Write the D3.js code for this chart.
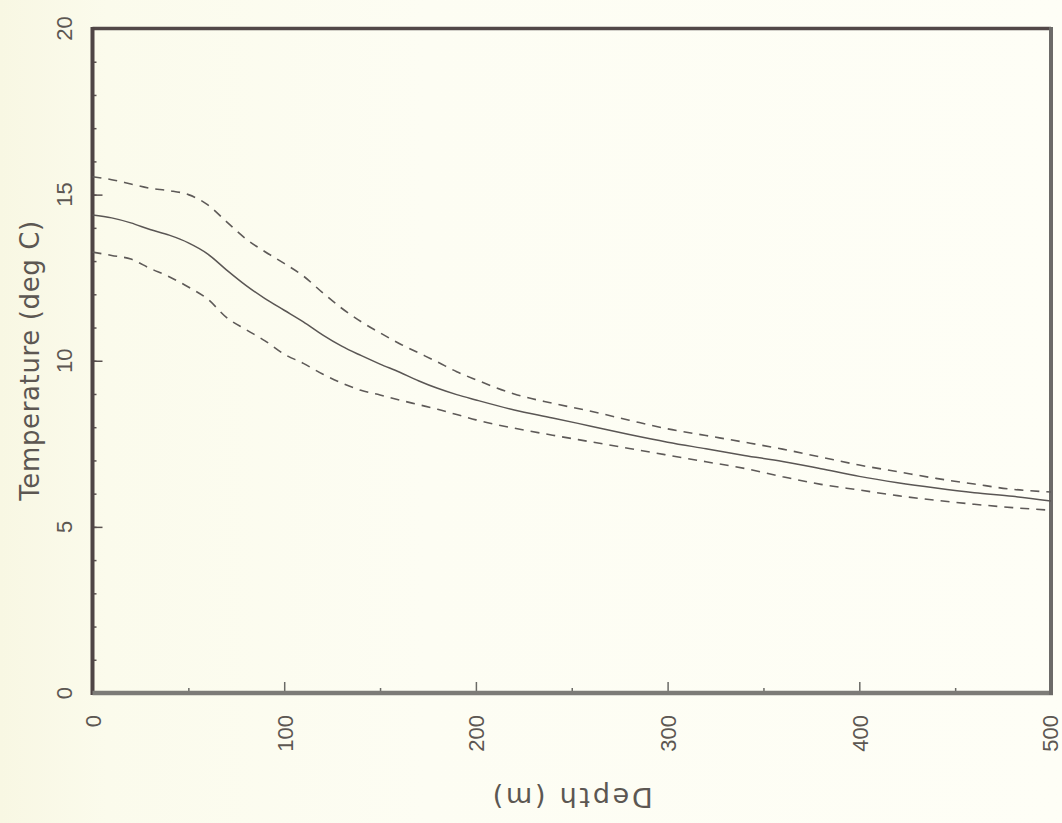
<!DOCTYPE html>
<html>
<head>
<meta charset="utf-8">
<script src="https://cdn.jsdelivr.net/npm/d3@7"></script>
<style>
  html, body { margin: 0; padding: 0; background: #fdfdf2; }
  svg { display: block; }
  text { font-family: "Liberation Sans", "DejaVu Sans", sans-serif; fill: #5c5752; }
  .title { font-family: "DejaVu Sans", sans-serif; }
</style>
</head>
<body>
<svg id="chart" width="1062" height="823"></svg>
<script>
// ---- data ----
const depths = [0,10,20,30,40,50,60,70,80,90,100,110,120,130,140,150,160,170,180,190,200,
                220,240,260,280,300,320,340,360,380,400,420,440,460,480,500];
const meanTemp = [14.39,14.30,14.15,13.95,13.78,13.55,13.22,12.73,12.27,11.87,11.52,11.17,10.78,10.44,10.16,9.90,9.66,9.40,9.17,8.98,8.82,
                  8.52,8.28,8.03,7.78,7.55,7.35,7.15,6.97,6.75,6.52,6.33,6.17,6.03,5.92,5.78];
const upperTemp = [15.54,15.45,15.32,15.19,15.12,15.00,14.70,14.18,13.67,13.28,12.93,12.55,12.05,11.58,11.18,10.84,10.52,10.24,9.96,9.67,9.43,
                   9.00,8.72,8.48,8.21,7.95,7.75,7.55,7.34,7.10,6.86,6.66,6.46,6.29,6.13,6.05];
const lowerTemp = [13.27,13.17,13.06,12.78,12.53,12.22,11.86,11.30,10.94,10.60,10.20,9.92,9.60,9.33,9.11,8.97,8.82,8.68,8.54,8.38,8.22,
                   7.97,7.76,7.56,7.36,7.16,6.96,6.76,6.51,6.28,6.11,5.94,5.80,5.68,5.58,5.50];
const xMajorTicks = [0,100,200,300,400,500];
const xMinorTicks = [50,150,250,350,450];
const yMajorTicks = [0,5,10,15,20];
const yMinorTicks = d3.range(0,21);
const xTitle = "Depth (m)";
const yTitle = "Temperature (deg C)";

const svg = d3.select("#chart");

// subtle paper tint
const defs = svg.append("defs");
const grad = defs.append("linearGradient").attr("id","paper").attr("x1","0").attr("x2","1").attr("y1","0").attr("y2","0");
grad.append("stop").attr("offset","0").attr("stop-color","#f8f7e3");
grad.append("stop").attr("offset","0.1").attr("stop-color","#fbfbec");
grad.append("stop").attr("offset","0.4").attr("stop-color","#fdfdf3");
grad.append("stop").attr("offset","1").attr("stop-color","#fefef6");
svg.append("rect").attr("width",1062).attr("height",823).attr("fill","url(#paper)");

const x = d3.scaleLinear().domain([0,500]).range([92.5,1051]);
const y = d3.scaleLinear().domain([0,20]).range([693,28.5]);

// ticks (inward)
const gY = svg.append("g").attr("transform",`translate(${x(0)},0)`);
gY.call(d3.axisRight(y).tickValues(yMinorTicks).tickSize(4).tickFormat(""));
gY.append("g").call(d3.axisRight(y).tickValues(yMajorTicks).tickSize(10).tickFormat(""));
gY.selectAll(".domain").remove();
gY.selectAll("line").attr("stroke","#5a5250").attr("stroke-width",1.5);

const gX = svg.append("g").attr("transform",`translate(0,${y(0)})`);
gX.call(d3.axisTop(x).tickValues(xMinorTicks).tickSize(5).tickFormat(""));
gX.append("g").call(d3.axisTop(x).tickValues(xMajorTicks.filter(d=>d<500)).tickSize(11).tickFormat(""));
gX.selectAll(".domain").remove();
gX.selectAll("line").attr("stroke","#6a6a66").attr("stroke-width",1.5);

// frame
svg.append("line").attr("x1",x(0)).attr("x2",x(500)).attr("y1",y(20)).attr("y2",y(20))
  .attr("stroke","#524848").attr("stroke-width",3.5);
svg.append("line").attr("x1",x(0)).attr("x2",x(0)).attr("y1",y(20)-1.5).attr("y2",y(0)+2)
  .attr("stroke","#4f4545").attr("stroke-width",4);
svg.append("line").attr("x1",x(0)).attr("x2",x(500)+2).attr("y1",y(0)).attr("y2",y(0))
  .attr("stroke","#7c7b77").attr("stroke-width",4.5);
svg.append("line").attr("x1",x(500)).attr("x2",x(500)).attr("y1",y(20)-1.5).attr("y2",y(0)+2)
  .attr("stroke","#6c6a68").attr("stroke-width",4);

// lines
const mk = arr => d3.line().x((d,i)=>x(depths[i])).y(d=>y(d)).curve(d3.curveMonotoneX)(arr);
svg.append("path").attr("d",mk(upperTemp)).attr("fill","none").attr("stroke","#5e5a58")
  .attr("stroke-width",1.6).attr("stroke-dasharray","9,7");
svg.append("path").attr("d",mk(lowerTemp)).attr("fill","none").attr("stroke","#5e5a58")
  .attr("stroke-width",1.6).attr("stroke-dasharray","9,7");
svg.append("path").attr("d",mk(meanTemp)).attr("fill","none").attr("stroke","#5a5654")
  .attr("stroke-width",1.5);

// y tick labels (rotated, read bottom-to-top)
svg.selectAll(".ylab").data(yMajorTicks).enter().append("text")
  .attr("transform",d=>`translate(64,${y(d)}) rotate(-90)`)
  .attr("text-anchor","middle").attr("dominant-baseline","central")
  .attr("font-size",22).text(d=>d);

// x tick labels (rotated, read bottom-to-top, top end at fixed line)
svg.selectAll(".xlab").data(xMajorTicks).enter().append("text")
  .attr("transform",d=>`translate(${Math.min(x(d)+1, 1050)},715) rotate(-90)`)
  .attr("text-anchor","end").attr("dominant-baseline","central")
  .attr("font-size",22).text(d=>d);

// axis titles
svg.append("text").attr("class","title")
  .attr("transform",`translate(30,${(y(0)+y(20))/2}) rotate(-90)`)
  .attr("text-anchor","middle").attr("dominant-baseline","central")
  .attr("font-size",26).attr("textLength",280).attr("lengthAdjust","spacing").text(yTitle);
svg.append("text").attr("class","title")
  .attr("transform",`translate(${(x(0)+x(500))/2 + 1},797) rotate(180)`)
  .attr("text-anchor","middle").attr("dominant-baseline","central")
  .attr("font-size",27).attr("textLength",160).attr("lengthAdjust","spacing").text(xTitle);
</script>
</body>
</html>
